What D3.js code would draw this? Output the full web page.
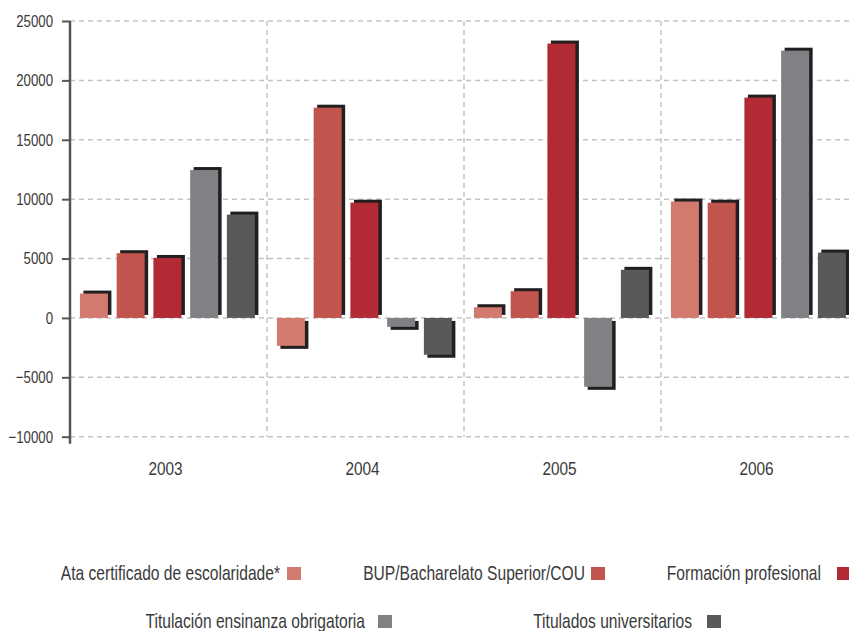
<!DOCTYPE html>
<html>
<head>
<meta charset="utf-8">
<script src="https://cdn.jsdelivr.net/npm/d3@7"></script>
<style>
  body { margin: 0; background: #fff; }
  svg text { font-family: "Liberation Sans", Arial, sans-serif; fill: #3a3a3a; }
</style>
</head>
<body>
<svg id="chart" width="849" height="631"></svg>
<script>
const YEARS = ["2003", "2004", "2005", "2006"];
const SERIES = [
  "Ata certificado de escolaridade*",
  "BUP/Bacharelato Superior/COU",
  "Formación profesional",
  "Titulación ensinanza obrigatoria",
  "Titulados universitarios"
];
const COLORS = ["#d27a6e", "#c1554d", "#b22a33", "#808184", "#58595b"];
// values per series, one per year
const ATA = [2050, -2350, 900, 9800];
const BUP = [5450, 17700, 2250, 9700];
const FP = [5050, 9700, 23100, 18550];
const OBRIG = [12450, -750, -5800, 22500];
const UNIV = [8700, -3100, 4050, 5500];
const VALUES = [ATA, BUP, FP, OBRIG, UNIV];
const Y_TICKS = [-10000, -5000, 0, 5000, 10000, 15000, 20000, 25000];

const svg = d3.select("#chart");
const mLeft = 70, mRight = 858, mTop = 21, mBottom = 436.7;

const x = d3.scaleBand().domain(YEARS).range([mLeft, mRight]);
const xInner = d3.scaleBand().domain(d3.range(SERIES.length))
  .range([0, x.bandwidth()]).paddingInner(0.238).paddingOuter(0.3).align(0.45);
const y = d3.scaleLinear().domain([-10000, 25000]).range([mBottom, mTop]);

// squeeze text horizontally, the original uses a condensed face
function condense(sel, sx) {
  sel.each(function () {
    const t = d3.select(this);
    const tx = +t.attr("x") || 0;
    t.attr("x", tx / sx).attr("transform", `scale(${sx},1)`);
  });
}

// grid
const grid = svg.append("g").attr("stroke", "#c3c3c3").attr("stroke-width", 1.5)
  .attr("stroke-dasharray", "5,4");
grid.selectAll("line.h").data(Y_TICKS).enter().append("line")
  .attr("x1", mLeft).attr("x2", 849)
  .attr("y1", d => y(d)).attr("y2", d => y(d));
grid.selectAll("line.v").data(YEARS.slice(1)).enter().append("line")
  .attr("x1", d => x(d)).attr("x2", d => x(d))
  .attr("y1", mTop).attr("y2", mBottom);

// bars
const rows = [];
YEARS.forEach((yr, i) => VALUES.forEach((vals, s) => rows.push({ yr, s, v: vals[i] })));

const bars = svg.append("g");
// shadows
bars.selectAll("rect.shadow").data(rows).enter().append("rect")
  .attr("fill", "#231f20")
  .attr("x", d => x(d.yr) + xInner(d.s) + 3.5)
  .attr("y", d => d.v >= 0 ? y(d.v) - 3 : y(0) + 3)
  .attr("width", xInner.bandwidth())
  .attr("height", d => Math.abs(y(d.v) - y(0)));
bars.selectAll("rect.bar").data(rows).enter().append("rect")
  .attr("fill", d => COLORS[d.s])
  .attr("x", d => x(d.yr) + xInner(d.s))
  .attr("y", d => Math.min(y(d.v), y(0)))
  .attr("width", xInner.bandwidth())
  .attr("height", d => Math.abs(y(d.v) - y(0)));

// y axis
const yAxis = svg.append("g").attr("transform", `translate(${mLeft},0)`)
  .call(d3.axisLeft(y).tickValues(Y_TICKS).tickSize(8).tickPadding(9).tickFormat(d3.format("d")));
yAxis.select(".domain").remove();
yAxis.selectAll(".tick line").attr("stroke", "#555").attr("stroke-width", 2);
yAxis.selectAll(".tick text").attr("font-size", 17).attr("fill", "#3a3a3a")
  .call(condense, 0.78);
svg.append("line").attr("x1", mLeft).attr("x2", mLeft).attr("y1", mTop).attr("y2", mBottom + 7)
  .attr("stroke", "#555").attr("stroke-width", 2.5);

// x labels
svg.append("g").selectAll("text").data(YEARS).enter().append("text")
  .attr("x", d => x(d) + x.bandwidth() / 2 - 3)
  .attr("y", 475)
  .attr("text-anchor", "middle")
  .attr("font-size", 18.5)
  .text(d => d)
  .call(condense, 0.83);

// legend
const LEG_POS = [[280, 580], [585, 580], [821, 580], [365, 628], [692, 628]];
const LEG_GAP = [7, 6, 16, 13, 15];
const legend = svg.append("g");
SERIES.forEach((name, i) => {
  const [lx, ly] = LEG_POS[i];
  legend.append("text").attr("x", lx).attr("y", ly).attr("text-anchor", "end")
    .attr("font-size", 20).text(name).call(condense, 0.78);
  legend.append("rect").attr("x", lx + LEG_GAP[i]).attr("y", ly - 13)
    .attr("width", 14).attr("height", 13).attr("fill", COLORS[i]);
});
</script>
</body>
</html>
